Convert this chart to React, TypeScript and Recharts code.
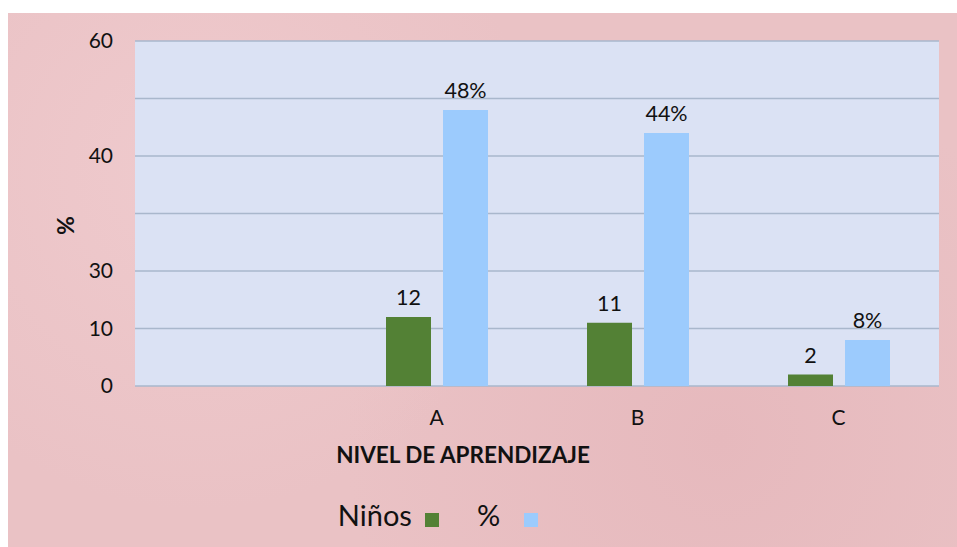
import { Bar, BarChart, CartesianGrid, LabelList, Legend, XAxis, YAxis } from "recharts";

const categories = ["", "A", "B", "C"];
const ninos = [null, 12, 11, 2];
const porcentaje = [null, 48, 44, 8];
const yTicks = [0, 10, 20, 30, 40, 50, 60];
const yTickLabels = ["0", "10", "30", "", "40", "", "60"];

const data = categories.map((name, i) => ({
  name,
  ninos: ninos[i],
  pct: porcentaje[i],
}));

const FONT = "Lato, 'Open Sans', sans-serif";
const GREEN = "#538135";
const BLUE = "#9ccbfd";

const LegendContent = ({ payload }: any) => (
  <div
    style={{
      display: "flex",
      justifyContent: "center",
      alignItems: "center",
      fontFamily: FONT,
      fontSize: 29,
      color: "#111",
    }}
  >
    {(payload ?? []).map((p: any, i: number) => (
      <div key={p.value} style={{ display: "flex", alignItems: "center", marginLeft: i ? 38 : 0 }}>
        <span>{p.value}</span>
        <span
          style={{
            display: "inline-block",
            width: 14,
            height: 14,
            background: p.color,
            marginLeft: i ? 24 : 13,
            marginTop: 10,
          }}
        />
      </div>
    ))}
  </div>
);

export default function App() {
  return (
    <div
      style={{
        position: "absolute",
        left: 8,
        top: 13,
        width: 949,
        height: 534,
        background:
          "radial-gradient(circle at 20% 30%, #efcacd 0%, transparent 40%), radial-gradient(circle at 75% 80%, #e6b9bd 0%, transparent 45%), #eac2c5",
      }}
    >
      <BarChart
        width={949}
        height={534}
        data={data}
        margin={{ top: 28, right: 18, bottom: 71, left: 0 }}
        barSize={45}
        barGap={12}
      >
        <CartesianGrid vertical={false} fill="#dbe2f4" stroke="#a9b7cc" strokeWidth={1.5} />
        <XAxis
          dataKey="name"
          height={90}
          axisLine={false}
          tickLine={false}
          tickSize={0}
          tickMargin={24}
          tick={{ fill: "#111", fontSize: 21, fontFamily: FONT }}
          label={{
            value: "NIVEL DE APRENDIZAJE",
            position: "insideTop",
            offset: 61,
            dx: -74,
            fill: "#111",
            fontSize: 22.5,
            fontWeight: 700,
            fontFamily: FONT,
          }}
        />
        <YAxis
          width={127}
          domain={[0, 60]}
          ticks={yTicks}
          interval={0}
          axisLine={false}
          tickLine={false}
          tickSize={0}
          tickMargin={22}
          tickFormatter={(v: number) => yTickLabels[yTicks.indexOf(v)] ?? ""}
          tick={{ fill: "#111", fontSize: 21, fontFamily: FONT }}
          label={{
            content: ({ viewBox }: any) => (
              <text
                x={viewBox.x + 57}
                y={viewBox.y + viewBox.height / 2 + 12}
                transform={`rotate(-90, ${viewBox.x + 57}, ${viewBox.y + viewBox.height / 2 + 12})`}
                textAnchor="middle"
                dominantBaseline="central"
                fill="#111"
                fontSize={23}
                fontWeight={700}
                fontFamily={FONT}
              >
                %
              </text>
            ),
          }}
        />
        <Legend
          verticalAlign="middle"
          align="center"
          layout="horizontal"
          itemSorter="dataKey"
          content={<LegendContent />}
          wrapperStyle={{ top: 484, left: 0, width: 860, height: 36 }}
        />
        <Bar dataKey="ninos" name="Niños" fill={GREEN} isAnimationActive={false}>
          <LabelList
            dataKey="ninos"
            position="top"
            offset={12}
            fill="#111"
            fontSize={21.5}
            fontFamily={FONT}
            formatter={(v: any) => (v == null ? "" : `${v}`)}
          />
        </Bar>
        <Bar dataKey="pct" name="%" fill={BLUE} isAnimationActive={false}>
          <LabelList
            dataKey="pct"
            position="top"
            offset={12}
            fill="#111"
            fontSize={21.5}
            fontFamily={FONT}
            formatter={(v: any) => (v == null ? "" : `${v}%`)}
          />
        </Bar>
      </BarChart>
    </div>
  );
}
